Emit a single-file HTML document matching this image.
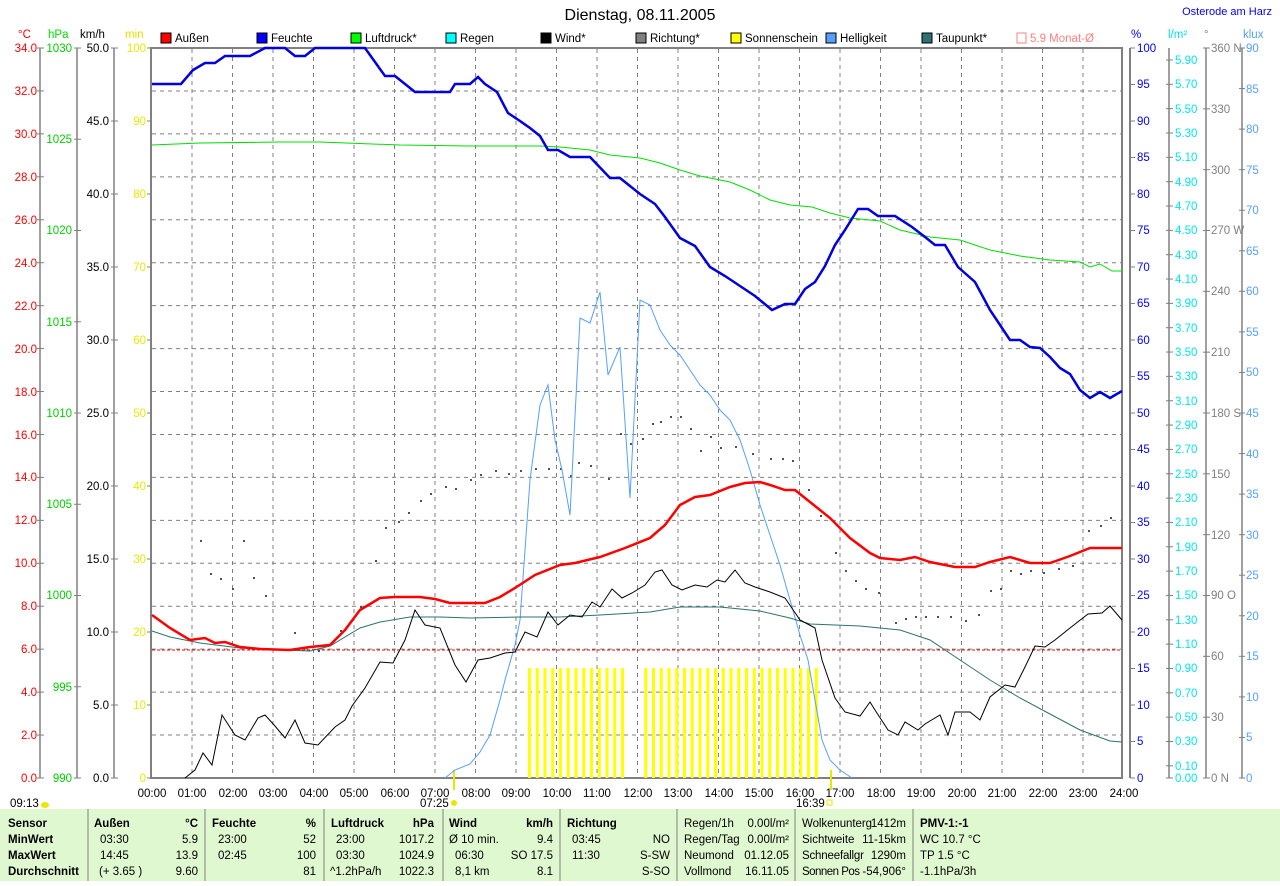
<!DOCTYPE html>
<html><head><meta charset="utf-8"><style>
body{margin:0;background:#fff;width:1280px;height:881px;overflow:hidden;font-family:"Liberation Sans",sans-serif}
svg text{font-family:"Liberation Sans",sans-serif;font-size:11.5px}
</style></head><body>
<svg width="1280" height="881" viewBox="0 0 1280 881" xmlns="http://www.w3.org/2000/svg">
<g id="grid" stroke="#808080" stroke-dasharray="4,4" stroke-width="1"></g>
<rect x="151" y="48" width="971" height="730" fill="none" stroke="#808080" stroke-width="2"/>
<line x1="1130" y1="48" x2="1130" y2="778" stroke="#808080" stroke-width="2"/>
<g stroke="#808080" stroke-width="1.5">
<line x1="40" y1="48" x2="40" y2="778"/><line x1="77" y1="48" x2="77" y2="778"/><line x1="114" y1="48" x2="114" y2="778"/>
<line x1="1169" y1="48" x2="1169" y2="778"/><line x1="1206" y1="48" x2="1206" y2="778"/><line x1="1242" y1="48" x2="1242" y2="778"/>
</g>
<g id="ticks" stroke="#808080" stroke-width="1"></g>
<text x="640" y="20" text-anchor="middle" style="font-size:16px">Dienstag, 08.11.2005</text>
<text x="1272" y="15" fill="#0000ff" text-anchor="end" style="font-size:11px">Osterode am Harz</text>
<g>
<text x="18" y="38" fill="#ff0000">°C</text><text x="48" y="38" fill="#00e000">hPa</text><text x="80" y="38">km/h</text><text x="125" y="38" fill="#e0e000">min</text>
<text x="1131" y="38" fill="#0000ff">%</text><text x="1168" y="38" fill="#00e0e0">l/m²</text><text x="1204" y="38" fill="#808080">°</text><text x="1243" y="38" fill="#55a0ff">klux</text>
</g>
<g>
<rect x="161" y="33" width="10" height="10" fill="#ff0000" stroke="#000"/><text x="175" y="42">Außen</text>
<rect x="257" y="33" width="10" height="10" fill="#0000ff" stroke="#000"/><text x="271" y="42">Feuchte</text>
<rect x="351" y="33" width="10" height="10" fill="#00ff00" stroke="#000"/><text x="365" y="42">Luftdruck*</text>
<rect x="446" y="33" width="10" height="10" fill="#00ffff" stroke="#000"/><text x="460" y="42">Regen</text>
<rect x="541" y="33" width="10" height="10" fill="#000" stroke="#000"/><text x="555" y="42">Wind*</text>
<rect x="636" y="33" width="10" height="10" fill="#808080" stroke="#000"/><text x="650" y="42">Richtung*</text>
<rect x="731" y="33" width="10" height="10" fill="#ffff00" stroke="#000"/><text x="745" y="42">Sonnenschein</text>
<rect x="826" y="33" width="10" height="10" fill="#55a0ff" stroke="#000"/><text x="840" y="42">Helligkeit</text>
<rect x="922" y="33" width="10" height="10" fill="#2f7070" stroke="#000"/><text x="936" y="42">Taupunkt*</text>
<rect x="1017" y="33" width="9" height="10" fill="none" stroke="#ff8080"/><text x="1030" y="42" fill="#ff8080">5.9 Monat-Ø</text>
</g>
<g fill="#ff0000" text-anchor="end">
<text x="37" y="52">34.0</text><text x="37" y="95">32.0</text><text x="37" y="138">30.0</text><text x="37" y="181">28.0</text><text x="37" y="224">26.0</text><text x="37" y="267">24.0</text><text x="37" y="310">22.0</text><text x="37" y="353">20.0</text><text x="37" y="396">18.0</text><text x="37" y="439">16.0</text><text x="37" y="481">14.0</text><text x="37" y="524">12.0</text><text x="37" y="567">10.0</text><text x="37" y="610">8.0</text><text x="37" y="653">6.0</text><text x="37" y="696">4.0</text><text x="37" y="739">2.0</text><text x="37" y="782">0.0</text>
</g>
<g fill="#00d000" text-anchor="end">
<text x="72" y="52">1030</text><text x="72" y="143">1025</text><text x="72" y="234">1020</text><text x="72" y="326">1015</text><text x="72" y="417">1010</text><text x="72" y="508">1005</text><text x="72" y="599">1000</text><text x="72" y="691">995</text><text x="72" y="782">990</text>
</g>
<g fill="#000" text-anchor="end">
<text x="109" y="52">50.0</text><text x="109" y="125">45.0</text><text x="109" y="198">40.0</text><text x="109" y="271">35.0</text><text x="109" y="344">30.0</text><text x="109" y="417">25.0</text><text x="109" y="490">20.0</text><text x="109" y="563">15.0</text><text x="109" y="636">10.0</text><text x="109" y="709">5.0</text><text x="109" y="782">0.0</text>
</g>
<g fill="#e8e800" text-anchor="end">
<text x="146" y="52">100</text><text x="146" y="125">90</text><text x="146" y="198">80</text><text x="146" y="271">70</text><text x="146" y="344">60</text><text x="146" y="417">50</text><text x="146" y="490">40</text><text x="146" y="563">30</text><text x="146" y="636">20</text><text x="146" y="709">10</text><text x="146" y="782">0</text>
</g>
<g fill="#0000ff">
<text x="1137" y="52">100</text><text x="1137" y="88">95</text><text x="1137" y="125">90</text><text x="1137" y="161">85</text><text x="1137" y="198">80</text><text x="1137" y="234">75</text><text x="1137" y="271">70</text><text x="1137" y="307">65</text><text x="1137" y="344">60</text><text x="1137" y="380">55</text><text x="1137" y="417">50</text><text x="1137" y="453">45</text><text x="1137" y="490">40</text><text x="1137" y="526">35</text><text x="1137" y="563">30</text><text x="1137" y="599">25</text><text x="1137" y="636">20</text><text x="1137" y="672">15</text><text x="1137" y="709">10</text><text x="1137" y="745">5</text><text x="1137" y="782">0</text>
</g>
<g fill="#808080">
<text x="1211" y="52">360 N</text><text x="1211" y="113">330</text><text x="1211" y="174">300</text><text x="1211" y="234">270 W</text><text x="1211" y="295">240</text><text x="1211" y="356">210</text><text x="1211" y="417">180 S</text><text x="1211" y="478">150</text><text x="1211" y="539">120</text><text x="1211" y="599">90 O</text><text x="1211" y="660">60</text><text x="1211" y="721">30</text><text x="1211" y="782">0 N</text>
</g>
<g fill="#55a0ff">
<text x="1246" y="52">90</text><text x="1246" y="93">85</text><text x="1246" y="133">80</text><text x="1246" y="174">75</text><text x="1246" y="214">70</text><text x="1246" y="255">65</text><text x="1246" y="295">60</text><text x="1246" y="336">55</text><text x="1246" y="376">50</text><text x="1246" y="417">45</text><text x="1246" y="458">40</text><text x="1246" y="498">35</text><text x="1246" y="539">30</text><text x="1246" y="579">25</text><text x="1246" y="620">20</text><text x="1246" y="660">15</text><text x="1246" y="701">10</text><text x="1246" y="741">5</text><text x="1246" y="782">0</text>
</g>
<g fill="#00e8e8">
<text x="1175" y="64">5.90</text><text x="1175" y="88">5.70</text><text x="1175" y="113">5.50</text><text x="1175" y="137">5.30</text><text x="1175" y="161">5.10</text><text x="1175" y="186">4.90</text><text x="1175" y="210">4.70</text><text x="1175" y="234">4.50</text><text x="1175" y="259">4.30</text><text x="1175" y="283">4.10</text><text x="1175" y="307">3.90</text><text x="1175" y="332">3.70</text><text x="1175" y="356">3.50</text><text x="1175" y="380">3.30</text><text x="1175" y="405">3.10</text><text x="1175" y="429">2.90</text><text x="1175" y="453">2.70</text><text x="1175" y="478">2.50</text><text x="1175" y="502">2.30</text><text x="1175" y="526">2.10</text><text x="1175" y="551">1.90</text><text x="1175" y="575">1.70</text><text x="1175" y="599">1.50</text><text x="1175" y="624">1.30</text><text x="1175" y="648">1.10</text><text x="1175" y="672">0.90</text><text x="1175" y="697">0.70</text><text x="1175" y="721">0.50</text><text x="1175" y="745">0.30</text><text x="1175" y="770">0.10</text><text x="1175" y="782">0.00</text>
</g>
<g text-anchor="middle">
<text x="152" y="797">00:00</text><text x="192" y="797">01:00</text><text x="233" y="797">02:00</text><text x="273" y="797">03:00</text><text x="314" y="797">04:00</text><text x="354" y="797">05:00</text><text x="395" y="797">06:00</text><text x="435" y="797">07:00</text><text x="476" y="797">08:00</text><text x="516" y="797">09:00</text><text x="557" y="797">10:00</text><text x="597" y="797">11:00</text><text x="638" y="797">12:00</text><text x="678" y="797">13:00</text><text x="719" y="797">14:00</text><text x="759" y="797">15:00</text><text x="800" y="797">16:00</text><text x="840" y="797">17:00</text><text x="881" y="797">18:00</text><text x="921" y="797">19:00</text><text x="962" y="797">20:00</text><text x="1002" y="797">21:00</text><text x="1043" y="797">22:00</text><text x="1083" y="797">23:00</text><text x="1124" y="797">24:00</text>
</g>
<text x="10" y="807">09:13</text><ellipse cx="45" cy="805" rx="4" ry="3" fill="#e8e800"/>
<text x="420" y="807">07:25</text><circle cx="454" cy="803" r="3" fill="#e8e800"/>
<text x="796" y="807">16:39</text><rect x="827" y="800" width="5" height="5" fill="none" stroke="#e8e800"/>
<line x1="454" y1="770" x2="454" y2="790" stroke="#e8e800" stroke-width="2"/>
<line x1="831" y1="770" x2="831" y2="790" stroke="#e8e800" stroke-width="2"/>
<line x1="152" y1="650" x2="1122" y2="650" stroke="#ff0000" stroke-dasharray="3,2" stroke-width="1"/>
<g id="sun" fill="#ffff00"></g>
<g id="dots" fill="#505050"></g>
<polyline fill="none" stroke="#55a0ff" stroke-width="1" points="445,778 455,770 470,764 480,752 490,735 500,700 505,680 515,645 520,620 530,480 540,405 548,385 555,440 562,470 570,515 580,318 590,323 600,292 608,375 620,347 630,498 640,300 650,305 660,330 670,345 680,355 690,370 700,385 710,395 720,410 730,420 740,440 750,470 760,505 770,535 780,565 790,600 800,635 808,660 815,700 822,740 830,760 840,770 852,778"/>
<polyline fill="none" stroke="#2f7070" stroke-width="1" points="152,631 170,637 200,643 240,648 280,650 310,651 330,646 360,628 380,622 410,617 440,617 470,618 520,617 560,617 600,615 650,612 680,607 720,607 760,611 790,618 810,624 860,626 900,630 930,640 960,660 990,680 1020,698 1050,714 1080,730 1110,741 1122,742"/>
<polyline fill="none" stroke="#00e000" stroke-width="1" points="152,145 200,143 280,142 320,142 400,145 470,146 540,146 560,147 590,150 610,155 640,158 660,163 680,170 700,176 730,182 750,190 770,200 790,205 812,207 830,213 850,218 880,221 900,230 930,237 960,240 990,250 1020,256 1050,260 1080,262 1090,267 1100,264 1112,271 1122,271"/>
<polyline fill="none" stroke="#000" stroke-width="1" points="185,778 195,770 203,753 212,765 222,715 235,735 245,740 258,718 265,715 275,726 285,738 295,720 305,743 318,745 335,727 345,720 352,706 365,688 380,662 393,663 405,640 415,610 425,625 440,628 455,665 466,682 478,660 490,658 505,653 515,652 525,632 537,637 548,612 558,625 570,615 582,617 592,602 600,607 612,589 622,598 632,593 645,585 655,572 662,570 672,585 682,590 695,585 707,587 717,580 725,582 735,570 745,583 755,587 770,592 785,598 800,620 815,628 822,660 835,698 845,712 860,716 870,702 875,710 888,730 898,735 905,722 918,730 925,724 940,715 948,735 955,712 970,712 980,720 990,697 1005,685 1015,687 1025,667 1035,646 1045,647 1055,640 1070,628 1088,614 1102,613 1110,606 1122,620"/>
<polyline fill="none" stroke="#ff0000" stroke-width="2.5" points="152,615 170,628 190,640 205,638 215,643 225,642 240,647 260,649 290,650 310,647 330,645 345,630 360,610 380,598 395,597 420,597 435,599 450,603 485,603 500,597 515,588 535,575 560,565 575,563 600,557 625,548 650,538 665,525 680,505 695,497 710,495 730,487 745,483 760,482 770,485 785,490 795,490 810,502 830,518 850,538 870,553 880,558 900,560 915,557 930,562 955,567 975,567 990,562 1010,557 1030,563 1050,563 1070,556 1090,548 1122,548"/>
<polyline fill="none" stroke="#0000e0" stroke-width="2.5" points="152,84 181,84 193,70 205,63 215,63 225,56 250,56 265,48 285,48 295,56 305,56 315,48 365,48 385,76 395,76 415,92 450,92 455,84 470,84 478,77 485,84 497,92 508,113 520,121 530,128 540,136 548,150 558,150 570,157 590,157 610,178 620,178 630,186 640,194 655,204 665,217 680,238 695,246 710,267 725,276 740,286 755,296 772,310 785,304 795,304 805,289 815,282 825,266 835,245 845,230 858,209 868,209 878,216 895,216 912,227 925,237 935,245 945,245 958,267 975,282 990,310 1010,340 1020,340 1030,347 1040,348 1050,357 1060,368 1070,374 1080,390 1090,398 1100,392 1110,398 1122,391"/>
<rect x="0" y="809" width="1280" height="72" fill="#e0f8d0"/>
<g stroke="#808080"><line x1="88" y1="809" x2="88" y2="881"/><line x1="205" y1="809" x2="205" y2="881"/><line x1="324" y1="809" x2="324" y2="881"/><line x1="443" y1="809" x2="443" y2="881"/><line x1="560" y1="809" x2="560" y2="881"/><line x1="677" y1="809" x2="677" y2="881"/><line x1="795" y1="809" x2="795" y2="881"/><line x1="913" y1="809" x2="913" y2="881"/></g>
<g style="font-size:11.5px">
<g font-weight="bold"><text x="8" y="827">Sensor</text><text x="8" y="843">MinWert</text><text x="8" y="859">MaxWert</text><text x="8" y="875">Durchschnitt</text>
<text x="94" y="827">Außen</text><text x="198" y="827" text-anchor="end">°C</text>
<text x="212" y="827">Feuchte</text><text x="316" y="827" text-anchor="end">%</text>
<text x="331" y="827">Luftdruck</text><text x="434" y="827" text-anchor="end">hPa</text>
<text x="449" y="827">Wind</text><text x="553" y="827" text-anchor="end">km/h</text>
<text x="567" y="827">Richtung</text><text x="920" y="827">PMV-1:-1</text></g>
<text x="100" y="843">03:30</text><text x="198" y="843" text-anchor="end">5.9</text>
<text x="100" y="859">14:45</text><text x="198" y="859" text-anchor="end">13.9</text>
<text x="99" y="875">(+ 3.65 )</text><text x="198" y="875" text-anchor="end">9.60</text>
<text x="218" y="843">23:00</text><text x="316" y="843" text-anchor="end">52</text>
<text x="218" y="859">02:45</text><text x="316" y="859" text-anchor="end">100</text>
<text x="316" y="875" text-anchor="end">81</text>
<text x="336" y="843">23:00</text><text x="434" y="843" text-anchor="end">1017.2</text>
<text x="336" y="859">03:30</text><text x="434" y="859" text-anchor="end">1024.9</text>
<text x="330" y="875">^1.2hPa/h</text><text x="434" y="875" text-anchor="end">1022.3</text>
<text x="449" y="843">Ø 10 min.</text><text x="553" y="843" text-anchor="end">9.4</text>
<text x="455" y="859">06:30</text><text x="553" y="859" text-anchor="end">SO 17.5</text>
<text x="455" y="875">8,1 km</text><text x="553" y="875" text-anchor="end">8.1</text>
<text x="572" y="843">03:45</text><text x="670" y="843" text-anchor="end">NO</text>
<text x="572" y="859">11:30</text><text x="670" y="859" text-anchor="end">S-SW</text>
<text x="670" y="875" text-anchor="end">S-SO</text>
<text x="684" y="827">Regen/1h</text><text x="789" y="827" text-anchor="end">0.00l/m²</text>
<text x="684" y="843">Regen/Tag</text><text x="789" y="843" text-anchor="end">0.00l/m²</text>
<text x="684" y="859">Neumond</text><text x="789" y="859" text-anchor="end">01.12.05</text>
<text x="684" y="875">Vollmond</text><text x="789" y="875" text-anchor="end">16.11.05</text>
<text x="802" y="827" textLength="70">Wolkenunterg</text><text x="906" y="827" text-anchor="end">1412m</text>
<text x="802" y="843">Sichtweite</text><text x="906" y="843" text-anchor="end">11-15km</text>
<text x="802" y="859" textLength="62">Schneefallgr</text><text x="906" y="859" text-anchor="end">1290m</text>
<text x="802" y="875" textLength="58">Sonnen Pos</text><text x="906" y="875" text-anchor="end">-54,906°</text>
<text x="920" y="843">WC 10.7 °C</text><text x="920" y="859">TP 1.5 °C</text><text x="920" y="875">-1.1hPa/3h</text>
</g>
<script>
var ns="http://www.w3.org/2000/svg";
function el(p,t,a){var e=document.createElementNS(ns,t);for(var k in a)e.setAttribute(k,a[k]);document.getElementById(p).appendChild(e);}
for(var h=1;h<24;h++){var x=151.5+40.5*h;el("grid","line",{x1:x,y1:49,x2:x,y2:777});}
for(var i=1;i<17;i++){var y=778-i*42.94;el("grid","line",{x1:152,y1:y,x2:1121,y2:y});}
function tk(ax,x1,x2,n,y0,y1){for(var i=0;i<=n;i++){var y=y0+(y1-y0)*i/n;el("ticks","line",{x1:x1,y1:y,x2:x2,y2:y});}}
tk(0,37,44,17,48,778);tk(0,74,81,8,48,778);tk(0,111,118,10,48,778);tk(0,147,151,10,48,778);
tk(0,1130,1135,20,48,778);tk(0,1203,1210,12,48,778);tk(0,1239,1245,18,48,778);
for(var v=0.1;v<6;v+=0.2){var y=778-v*121.7;el("ticks","line",{x1:1166,y1:y,x2:1173,y2:y});}
el("ticks","line",{x1:1166,y1:778,x2:1173,y2:778});
for(var x=528;x<820;x+=7.75){if(x>621&&x<638)continue;el("sun","rect",{x:x,y:668,width:3,height:110});}
var d=[[200,540],[210,573],[220,578],[232,588],[243,540],[253,577],[265,595],[294,632],[318,650],[340,630],[360,606],[375,560],[385,527],[398,521],[408,512],[420,500],[430,493],[445,486],[455,488],[470,479],[480,474],[495,470],[508,473],[520,470],[535,468],[548,468],[560,468],[570,475],[578,462],[590,465],[608,478],[620,433],[630,443],[642,438],[652,423],[660,421],[670,416],[680,416],[690,428],[700,450],[710,436],[720,447],[735,446],[752,453],[770,458],[782,458],[792,460],[808,489],[820,515],[835,552],[845,570],[855,580],[865,588],[878,592],[895,622],[905,618],[915,616],[925,616],[937,616],[950,616],[965,620],[978,614],[990,590],[1000,588],[1010,570],[1020,573],[1030,570],[1043,572],[1058,568],[1072,565],[1088,530],[1100,525],[1110,517]];
d.forEach(function(p){el("dots","rect",{x:p[0],y:p[1],width:2,height:2});});
</script>
</svg>
</body></html>
